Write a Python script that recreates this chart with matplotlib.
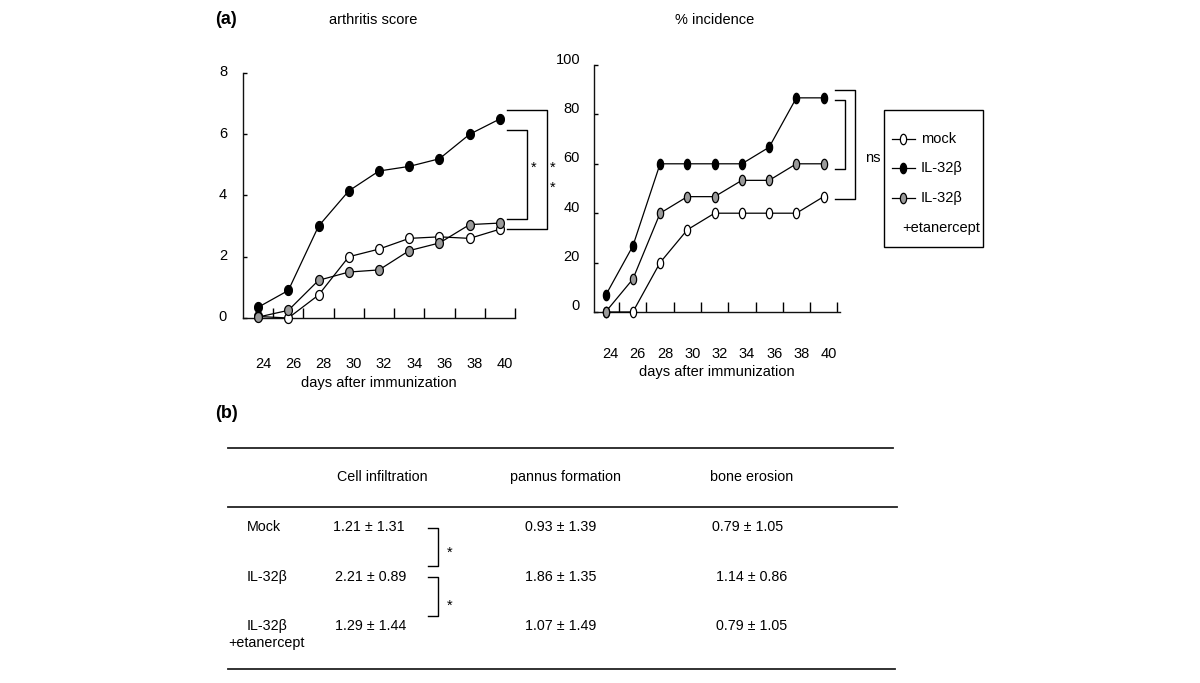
import matplotlib
matplotlib.use("Agg")
import matplotlib.pyplot as plt
import numpy as np
from matplotlib.path import Path
from matplotlib.lines import Line2D
from matplotlib.patches import Rectangle
from matplotlib.transforms import ScaledTranslation

plt.rcParams['font.family'] = ['Liberation Sans', 'DejaVu Sans']

# ---------------- data ----------------
days = [24, 26, 28, 30, 32, 34, 36, 38, 40]
score_mock = [0.05, 0.0, 0.75, 2.0, 2.25, 2.6, 2.65, 2.6, 2.9]
score_il32b = [0.35, 0.9, 3.0, 4.15, 4.8, 4.95, 5.2, 6.0, 6.5]
score_etan = [0.03, 0.25, 1.23, 1.5, 1.57, 2.2, 2.45, 3.05, 3.1]

inc_mock = [0, 0, 20, 33.3, 40, 40, 40, 40, 46.7]
inc_il32b = [6.7, 26.7, 60, 60, 60, 60, 66.7, 86.7, 86.7]
inc_etan = [0, 13.3, 40, 46.7, 46.7, 53.3, 53.3, 60, 60]

score_yticks = [0, 2, 4, 6, 8]
inc_yticks = [0, 20, 40, 60, 80, 100]
minor_days = [25, 27, 29, 31, 33, 35, 37, 39, 41]

legend_labels = ["mock", "IL-32β", "IL-32β"]

table_headers = ["Cell infiltration", "pannus formation", "bone erosion"]
table_rows = ["Mock", "IL-32β", "IL-32β\n+etanercept"]
table_cells = [["1.21 ± 1.31", "0.93 ± 1.39", "0.79 ± 1.05"],
               ["2.21 ± 0.89", "1.86 ± 1.35", "1.14 ± 0.86"],
               ["1.29 ± 1.44", "1.07 ± 1.49", "0.79 ± 1.05"]]

# ---------------- figure ----------------
W, H = 1200, 683
fig = plt.figure(figsize=(W / 100, H / 100), dpi=100)
fig.patch.set_facecolor('white')


def fx(px):
    return px / W


def fy(py):
    return 1 - py / H


def ellipse_marker(aspect):
    t = np.linspace(0, 2 * np.pi, 41)
    verts = np.column_stack([aspect * np.cos(t), np.sin(t)])
    return Path(verts, closed=True)


GRAY = '#9a9a9a'
FS = 10.5


def style_axes(ax, yticks, ypad, xpad, ylab_dy):
    for s in ['top', 'right']:
        ax.spines[s].set_visible(False)
    for s in ['left', 'bottom']:
        ax.spines[s].set_linewidth(1.0)
        ax.spines[s].set_color('#111111')
    ax.set_yticks(yticks)
    ax.set_yticklabels([str(v) for v in yticks])
    ax.tick_params(axis='y', direction='in', length=3, width=1,
                   pad=ypad, labelsize=FS)
    ax.set_xticks(days)
    ax.set_xticklabels([str(d) for d in days])
    ax.set_xticks(minor_days, minor=True)
    ax.tick_params(axis='x', which='major', length=0, pad=xpad, labelsize=FS)
    ax.tick_params(axis='x', which='minor', direction='in', length=7, width=1)
    off_x = ScaledTranslation(5 / 100, 0, fig.dpi_scale_trans)
    for lab in ax.get_xticklabels():
        lab.set_transform(lab.get_transform() + off_x)
    off_y = ScaledTranslation(0, ylab_dy / 100, fig.dpi_scale_trans)
    for lab in ax.get_yticklabels():
        lab.set_transform(lab.get_transform() + off_y)


def plot_series(ax, aspect, ms, mock, il, et):
    kw = dict(color='black', lw=0.9, markeredgecolor='black',
              markeredgewidth=0.9, markersize=ms, clip_on=False)
    m = ellipse_marker(aspect)
    ax.plot(days, mock, marker=m, markerfacecolor='white', zorder=3, **kw)
    ax.plot(days, et, marker=m, markerfacecolor=GRAY, zorder=4, **kw)
    ax.plot(days, il, marker=m, markerfacecolor='black', zorder=5, **kw)


# ---- left: arthritis score ----
ax1 = fig.add_axes([fx(243), fy(318), fx(272) , 245 / H])
ax1.set_xlim(23, 41)
ax1.set_ylim(0, 8)
plot_series(ax1, 0.78, 7.2, score_mock, score_il32b, score_etan)
style_axes(ax1, score_yticks, 11.5, 28, 2)
ax1.set_xlabel("days after immunization", fontsize=FS, labelpad=4)

# brackets (left)
bk = dict(color='black', lw=1.0, clip_on=False)
ax1.plot([40.5, 41.8, 41.8, 40.5], [6.14, 6.14, 3.24, 3.24], **bk)
ax1.plot([40.5, 43.1, 43.1, 40.5], [6.8, 6.8, 2.9, 2.9], **bk)
ax1.text(42.2, 4.9, "*", ha='center', va='center', fontsize=FS)
ax1.text(43.5, 4.9, "*", ha='center', va='center', fontsize=FS)
ax1.text(43.5, 4.25, "*", ha='center', va='center', fontsize=FS)

# ---- right: % incidence ----
ax2 = fig.add_axes([fx(594), fy(312), fx(246), 247 / H])
ax2.set_xlim(23.15, 41.2)
ax2.set_ylim(0, 100)
plot_series(ax2, 0.6, 7.5, inc_mock, inc_il32b, inc_etan)
style_axes(ax2, inc_yticks, 10, 25, 7)
ax2.set_xlabel("days after immunization", fontsize=FS, labelpad=3)

ax2.plot([40.8, 42.3, 42.3, 40.8], [89.9, 89.9, 45.7, 45.7], **bk)
ax2.plot([40.8, 41.6, 41.6, 40.8], [85.8, 85.8, 57.9, 57.9], **bk)
ax2.text(43.6, 62.3, "ns", ha='center', va='center', fontsize=FS)

# titles and panel labels
fig.text(fx(373), fy(20), "arthritis score", ha='center', va='center', fontsize=FS)
fig.text(fx(715), fy(20), "% incidence", ha='center', va='center', fontsize=FS)
fig.text(fx(226), fy(19), "(a)", ha='center', va='center', fontsize=13, fontweight='bold')
fig.text(fx(226), fy(413), "(b)", ha='center', va='center', fontsize=13, fontweight='bold')

# ---- legend (manual) ----
fig.add_artist(Rectangle((fx(884), fy(247)), fx(983) - fx(884), fy(110) - fy(247),
                         transform=fig.transFigure, fill=False, lw=1.0,
                         edgecolor='black'))
leg_faces = ['white', 'black', GRAY]
leg_y = [139, 168, 198]
m_leg = ellipse_marker(0.6)
for lab, fc, yy in zip(legend_labels, leg_faces, leg_y):
    fig.add_artist(Line2D([fx(892), fx(915)], [fy(yy), fy(yy)],
                          transform=fig.transFigure, color='black', lw=0.9))
    fig.add_artist(Line2D([fx(903)], [fy(yy)], transform=fig.transFigure,
                          marker=m_leg, markersize=7.5, markerfacecolor=fc,
                          markeredgecolor='black', markeredgewidth=0.9,
                          linestyle='none'))
    fig.text(fx(921), fy(yy), lab, ha='left', va='center', fontsize=FS)
fig.text(fx(902), fy(228), "+etanercept", ha='left', va='center', fontsize=FS)

# ---- table (b) ----
for yy, x0, x1 in [(448, 228, 893), (507, 228, 897), (669, 228, 895)]:
    fig.add_artist(Line2D([fx(x0), fx(x1)], [fy(yy), fy(yy)],
                          transform=fig.transFigure, color='#222222', lw=1.3))

hdr_x = [382, 565, 752]
for hx, htxt in zip(hdr_x, table_headers):
    fig.text(fx(hx), fy(477), htxt, ha='center', va='center', fontsize=10.3)

row_y = [527, 577, 626]
row_lab_x = [264, 267, 267]
col_x = [[369, 561, 748], [371, 561, 752], [371, 561, 752]]
for i, (ry, rl) in enumerate(zip(row_y, table_rows)):
    if "\n" in rl:
        first, second = rl.split("\n")
        fig.text(fx(row_lab_x[i]), fy(ry), first, ha='center', va='center', fontsize=10.3)
        fig.text(fx(266), fy(643), second, ha='center', va='center', fontsize=10.3)
    else:
        fig.text(fx(row_lab_x[i]), fy(ry), rl, ha='center', va='center', fontsize=10.3)
    for j, cell in enumerate(table_cells[i]):
        fig.text(fx(col_x[i][j]), fy(ry), cell, ha='center', va='center', fontsize=10.3)

# significance brackets in table
for y0, y1, ys in [(528, 566, 553), (577, 616, 606)]:
    fig.add_artist(Line2D([fx(428), fx(438), fx(438), fx(428)],
                          [fy(y0), fy(y0), fy(y1), fy(y1)],
                          transform=fig.transFigure, color='black', lw=1.0))
    fig.text(fx(450), fy(ys), "*", ha='center', va='center', fontsize=FS)

fig.savefig("out.png", dpi=100, facecolor='white')
